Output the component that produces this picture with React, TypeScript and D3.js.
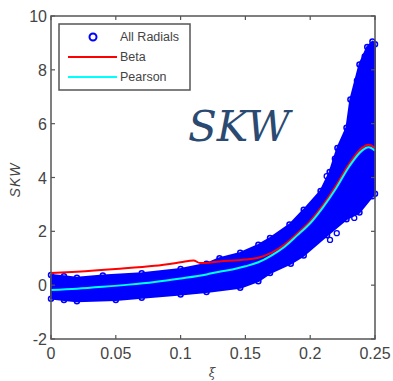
import React from "react";
import * as d3 from "d3";

const W = 393;
const H = 381;

const xTicks = [0, 0.05, 0.1, 0.15, 0.2, 0.25];
const xTickLabels = ["0", "0.05", "0.1", "0.15", "0.2", "0.25"];
const yTicks = [-2, 0, 2, 4, 6, 8, 10];
const yTickLabels = ["-2", "0", "2", "4", "6", "8", "10"];

// Scatter cloud envelope ("All Radials")
const upperX = [0, 0.01, 0.02, 0.04, 0.07, 0.1, 0.12, 0.13, 0.146, 0.16, 0.169, 0.184, 0.195, 0.208, 0.215, 0.221, 0.228, 0.231, 0.238, 0.244, 0.248, 0.25];
const upperY = [0.38, 0.33, 0.28, 0.36, 0.44, 0.6, 0.8, 1.0, 1.2, 1.5, 1.75, 2.25, 2.8, 3.5, 4.2, 5.1, 5.85, 6.9, 8.2, 8.85, 9.05, 8.95];
const lowerX = [0, 0.01, 0.02, 0.05, 0.07, 0.1, 0.12, 0.146, 0.16, 0.169, 0.185, 0.195, 0.213, 0.228, 0.238, 0.248, 0.25];
const lowerY = [-0.5, -0.55, -0.6, -0.55, -0.47, -0.35, -0.25, -0.1, 0.15, 0.45, 0.8, 1.1, 1.85, 2.45, 2.7, 3.3, 3.4];
// Stray points at the edge of the dense band
const strayX = [0.2153, 0.2205, 0.234, 0.2397, 0.2127, 0.219, 0.236, 0.242];
const strayY = [1.68, 1.93, 2.5, 3.1, 4.05, 4.7, 7.6, 8.5];

// Beta fit (red)
const betaX = [0, 0.02, 0.05, 0.08, 0.1, 0.11, 0.115, 0.13, 0.15, 0.16, 0.17, 0.18, 0.19, 0.2, 0.21, 0.22, 0.23, 0.24, 0.245, 0.25];
const betaY = [0.45, 0.5, 0.6, 0.72, 0.85, 0.92, 0.82, 0.88, 0.95, 1.02, 1.2, 1.5, 1.92, 2.38, 2.98, 3.7, 4.5, 5.1, 5.22, 5.1];

// Pearson fit (cyan)
const pearX = [0, 0.02, 0.04, 0.06, 0.08, 0.1, 0.12, 0.13, 0.14, 0.15, 0.16, 0.17, 0.18, 0.19, 0.2, 0.21, 0.22, 0.23, 0.24, 0.245, 0.25];
const pearY = [-0.18, -0.13, -0.06, 0.02, 0.12, 0.25, 0.4, 0.5, 0.58, 0.7, 0.85, 1.1, 1.42, 1.85, 2.3, 2.9, 3.6, 4.4, 5.0, 5.12, 5.0];

const legendLabels = ["All Radials", "Beta", "Pearson"];

export default function App() {
  const left = 51, right = 375, top = 16, bottom = 339;
  const x = d3.scaleLinear().domain([0, 0.25]).range([left, right]);
  const y = d3.scaleLinear().domain([-2, 10]).range([bottom, top]);

  const upper = upperX.map((v, i) => [x(v), y(upperY[i])] as [number, number]);
  const lower = lowerX.map((v, i) => [x(v), y(lowerY[i])] as [number, number]);
  const poly = [...upper, ...lower.slice().reverse()];
  const cloudPath = d3.line().curve(d3.curveLinearClosed)(poly) || "";

  const line = d3.line<[number, number]>().curve(d3.curveMonotoneX);
  const betaPath = line(betaX.map((v, i) => [x(v), y(betaY[i])])) || "";
  const pearPath = line(pearX.map((v, i) => [x(v), y(pearY[i])])) || "";

  const axisColor = "#555";
  const textColor = "#444";
  const tl = 4;
  const blue = "#0000ff";

  return (
    <svg width={W} height={H} style={{ position: "absolute", left: 0, top: 0, background: "#fff" }}>
      {/* scatter cloud */}
      <path d={cloudPath} fill={blue} stroke={blue} strokeWidth={2} strokeLinejoin="round" />
      {[...upper, ...lower].map((p, i) => (
        <circle key={"e" + i} cx={p[0]} cy={p[1]} r={2.5} fill="none" stroke={blue} strokeWidth={1.5} />
      ))}
      {strayX.map((v, i) => (
        <circle key={"s" + i} cx={x(v)} cy={y(strayY[i])} r={2.5} fill="none" stroke={blue} strokeWidth={1.3} />
      ))}
      <path d={betaPath} fill="none" stroke="#ff0000" strokeWidth={2} />
      <path d={pearPath} fill="none" stroke="#00ffff" strokeWidth={2} />

      {/* axes box */}
      <rect x={left} y={top} width={right - left} height={bottom - top} fill="none" stroke={axisColor} strokeWidth={1.5} />
      {xTicks.map((t, i) => (
        <g key={"xt" + i}>
          <line x1={x(t)} x2={x(t)} y1={bottom} y2={bottom - tl} stroke={axisColor} strokeWidth={1.2} />
          <line x1={x(t)} x2={x(t)} y1={top} y2={top + tl} stroke={axisColor} strokeWidth={1.2} />
          <text x={x(t)} y={359} textAnchor="middle" fontFamily="Liberation Sans, Arial, sans-serif" fontSize={16} fill={textColor}>
            {xTickLabels[i]}
          </text>
        </g>
      ))}
      {yTicks.map((t, i) => (
        <g key={"yt" + i}>
          <line x1={left} x2={left + tl} y1={y(t)} y2={y(t)} stroke={axisColor} strokeWidth={1.2} />
          <line x1={right} x2={right - tl} y1={y(t)} y2={y(t)} stroke={axisColor} strokeWidth={1.2} />
          <text x={47} y={y(t) + 6} textAnchor="end" fontFamily="Liberation Sans, Arial, sans-serif" fontSize={16} fill={textColor}>
            {yTickLabels[i]}
          </text>
        </g>
      ))}

      {/* axis labels */}
      <text transform="translate(20,180) rotate(-90)" textAnchor="middle" fontFamily="Liberation Sans, Arial, sans-serif" fontStyle="italic" fontSize={14} fill={textColor} letterSpacing={1}>
        SKW
      </text>
      <text x={212} y={377} textAnchor="middle" fontFamily="DejaVu Serif, serif" fontStyle="italic" fontSize={12} fill={textColor}>
        ξ
      </text>

      {/* big title */}
      <text x={188} y={141} fontFamily="DejaVu Serif, serif" fontStyle="italic" fontSize={42} fill="#2a4a72" textLength={102} lengthAdjust="spacingAndGlyphs">
        SKW
      </text>

      {/* legend */}
      <rect x={59} y={24} width={131} height={66} fill="#fff" stroke={axisColor} strokeWidth={1.5} />
      <circle cx={93} cy={37} r={3.5} fill="none" stroke={blue} strokeWidth={2} />
      <line x1={68} x2={117} y1={57} y2={57} stroke="#ff0000" strokeWidth={2} />
      <line x1={68} x2={117} y1={77} y2={77} stroke="#00ffff" strokeWidth={2} />
      {legendLabels.map((s, i) => (
        <text key={s} x={120} y={41 + i * 20} fontFamily="Liberation Sans, Arial, sans-serif" fontSize={12.5} fill={textColor}>
          {s}
        </text>
      ))}
    </svg>
  );
}
